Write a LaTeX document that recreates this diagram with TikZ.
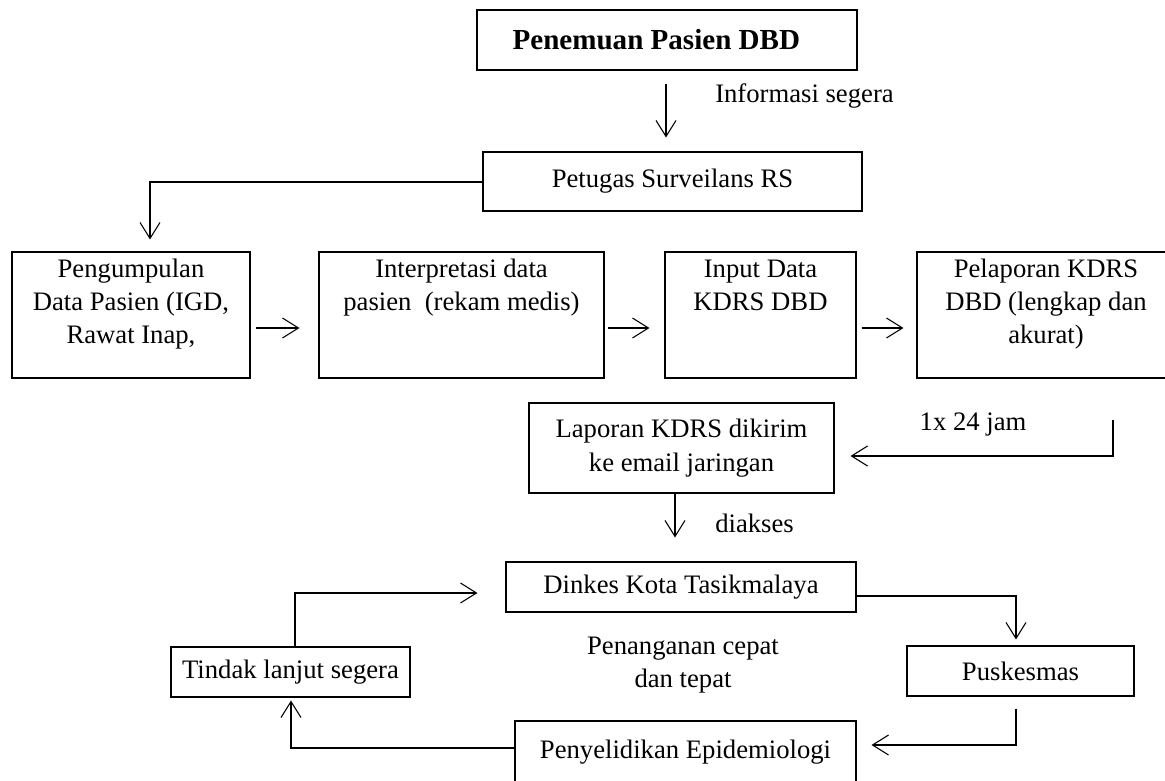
\documentclass[tikz,border=0pt]{standalone}
\usepackage{fontspec}
\setmainfont{Liberation Serif}
\usetikzlibrary{arrows.meta,calc}
\newcommand{\topbox}[3]{\parbox[c][#2][t]{#1}{\centering\rule{0pt}{19pt}#3}}
\begin{document}
\begin{tikzpicture}[x=0.75pt,y=-0.75pt,
  every node/.style={font=\fontsize{20}{25}\selectfont},
  box/.style={draw=black, line width=0.8pt, inner sep=0pt, align=center},
  arr/.style={draw=black, line width=0.8pt, -{Straight Barb[length=12pt,width=15pt]}},
  lbl/.style={inner sep=0pt, align=center}]
\useasboundingbox (0,0) rectangle (1165,781);
\fill[white] (0,0) rectangle (1165,781);
\clip (0,0) rectangle (1165,781);

\node[box, minimum width=285pt, minimum height=45pt, font=\fontsize{21.8}{26}\selectfont\bfseries] (B1) at (667,40) {Penemuan Pasien DBD\hspace*{16pt}};
\node[box, minimum width=284.25pt, minimum height=44.25pt] (B2) at (672.5,181.5) {Petugas Surveilans RS};

\node[box] (B3) at (131,315) {\topbox{178.5pt}{94.5pt}{Pengumpulan\\Data Pasien (IGD,\\Rawat Inap,}};
\node[box] (B4) at (461.5,315) {\topbox{213.75pt}{94.5pt}{Interpretasi data\\pasien\ \ (rekam medis)}};
\node[box] (B5) at (760.5,315) {\topbox{143.25pt}{94.5pt}{Input Data\\KDRS DBD}};
\node[box] (B6) at (1046,315) {\topbox{193.5pt}{94.5pt}{Pelaporan KDRS\\DBD (lengkap dan\\akurat)}};

\node[box, minimum width=228.75pt, minimum height=67.5pt] (L) at (681.5,448) {Laporan KDRS dikirim\\ke email jaringan};
\node[box, minimum width=262.5pt, minimum height=37.5pt] (D) at (681,587) {Dinkes Kota Tasikmalaya};
\node[box, minimum width=170.25pt, minimum height=37.5pt] (P) at (1020.5,671) {Puskesmas};
\node[box, minimum width=179.25pt, minimum height=37.5pt] (T) at (290.5,672) {Tindak lanjut segera};
\node[box, minimum width=255.75pt, minimum height=46.5pt] (E) at (685.5,752) {Penyelidikan Epidemiologi};

\node[lbl, anchor=base west] (i1) at (715,103) {Informasi segera};
\node[lbl, anchor=base] (j1) at (973,430) {1x 24 jam};
\node[lbl, anchor=base west] (d1) at (715,532) {diakses};
\node[lbl] (pc) at (683,665) {Penanganan cepat\\dan tepat};

\draw[arr] ($(B1.south)+(-1,13)$) -- ($(B2.north)+(-6.5,-14)$);
\draw[arr] ($(B2.west)+(0,0.5)$) -| ($(B3.north)+(19,-12)$);
\draw[arr] ($(B3.east)+(5,13)$) -- ($(B4.west)+(-19,13)$);
\draw[arr] ($(B4.east)+(3,13)$) -- ($(B5.west)+(-15,13)$);
\draw[arr] ($(B5.east)+(5,13)$) -- ($(B6.west)+(-13,13)$);
\draw[arr] ($(B6.south)+(67,41)$) |- ($(L.east)+(16,8)$);
\draw[arr] ($(L.south)+(-6.5,0)$) -- ($(D.north)+(-6,-24)$);
\draw[arr] ($(D.east)+(0,9)$) -| ($(P.north)+(-4.5,-6)$);
\draw[arr] ($(P.south)+(-4.5,12)$) |- ($(E.east)+(15,-7)$);
\draw[arr] ($(E.west)+(0,-4)$) -| ($(T.south)+(0.5,3)$);
\draw[arr] ($(T.north)+(4.5,0)$) |- ($(D.west)+(-28,6)$);
\end{tikzpicture}
\end{document}
